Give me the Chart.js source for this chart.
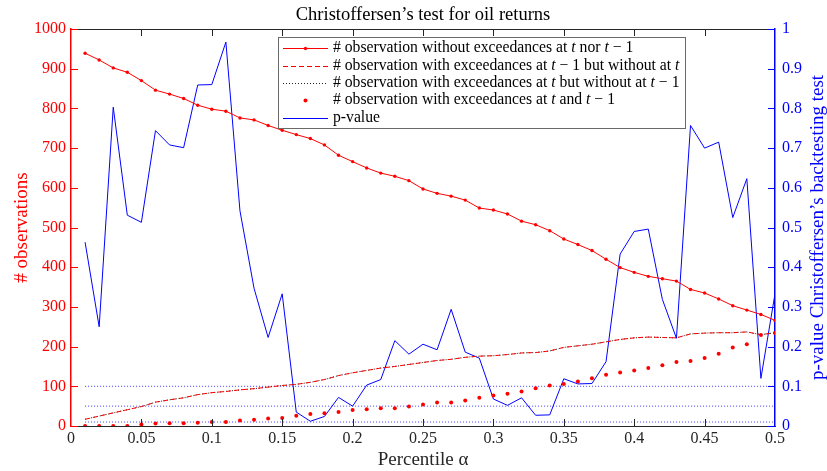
<!DOCTYPE html>
<html><head><meta charset="utf-8">
<script src="https://cdn.jsdelivr.net/npm/chart.js@4/dist/chart.umd.min.js"></script>
<style>html,body{margin:0;padding:0;background:#fff;}#wrap{width:827px;height:471px;}</style>
</head><body><div id="wrap"><canvas id="c" width="827" height="471"></canvas></div>
<script>
const alphas = [0.01,0.02,0.03,0.04,0.05,0.06,0.07,0.08,0.09,0.10,0.11,0.12,0.13,0.14,0.15,0.16,0.17,0.18,0.19,0.20,0.21,0.22,0.23,0.24,0.25,0.26,0.27,0.28,0.29,0.30,0.31,0.32,0.33,0.34,0.35,0.36,0.37,0.38,0.39,0.40,0.41,0.42,0.43,0.44,0.45,0.46,0.47,0.48,0.49,0.50];
const noExceed = [939,922,902,891,870,846,836,825,808,798,793,776,771,757,745,734,724,708,682,666,650,637,629,618,597,586,579,569,549,544,534,516,507,492,471,457,442,420,399,387,377,371,365,344,335,320,303,292,281,266];
const exceedPrevOnly = [17,25,33,41,49,60,66,71,79,84,87,91,94,98,102,105,110,117,127,134,140,146,150,155,160,165,168,173,176,177,180,184,185,189,198,202,206,212,218,222,224,223,222,232,234,235,235,237,230,235];
const exceedNowOnly = [17,25,33,41,49,60,66,71,79,84,87,91,94,98,102,105,110,117,127,134,140,146,150,155,160,165,168,173,176,177,180,184,185,189,198,202,206,212,218,222,224,223,222,232,234,235,235,237,230,235];
const exceedBoth = [0,0,0,0,4,6,7,7,8,10,10,14,16,19,20,26,30,32,35,40,42,45,45,49,54,59,59,64,71,77,81,87,95,102,106,112,120,129,135,140,146,153,161,164,171,182,198,206,229,234];
const pValues = [0.463,0.25,0.803,0.531,0.513,0.744,0.708,0.701,0.859,0.860,0.967,0.542,0.347,0.223,0.333,0.035,0.012,0.024,0.072,0.05,0.103,0.117,0.215,0.181,0.206,0.192,0.294,0.186,0.171,0.068,0.052,0.071,0.027,0.028,0.119,0.106,0.107,0.162,0.433,0.49,0.496,0.319,0.221,0.757,0.70,0.715,0.525,0.623,0.12,0.333];
const significance = [0.1, 0.05, 0.01];
const legendLabels = [
  '# observation without exceedances at $t$ nor $t-1$',
  '# observation with exceedances at $t-1$ but without at $t$',
  '# observation with exceedances at $t$ but without at $t-1$',
  '# observation with exceedances at $t$ and $t-1$',
  'p-value'
];
const titleText = 'Christoffersen\u2019s test for oil returns';
const xTitle = 'Percentile \u03b1';
const yTitle = '# observations';
const y1Title = 'p-value Christoffersen\u2019s backtesting test';

const SERIF = '"Liberation Serif", "Times New Roman", serif';
const RED = '#ff0000', BLUE = '#0000ff', DARK = '#262626';
const pts = ys => alphas.map((a, i) => ({x: a, y: ys[i]}));
const plain = s => s.replace(/\$/g, '').replace(/-1/g, ' \u2212 1');

const datasets = [
  {label: plain(legendLabels[0]), rich: legendLabels[0], data: pts(noExceed), yAxisID: 'y', borderColor: RED, backgroundColor: RED, borderWidth: 1, pointRadius: 1.7, pointBorderWidth: 0, pointHoverRadius: 0},
  {label: plain(legendLabels[1]), rich: legendLabels[1], data: pts(exceedPrevOnly), yAxisID: 'y', borderColor: RED, borderWidth: 1, borderDash: [5, 3], pointRadius: 0},
  {label: plain(legendLabels[2]), rich: legendLabels[2], data: pts(exceedNowOnly), yAxisID: 'y', borderColor: '#222222', borderWidth: 1, borderDash: [1, 2], pointRadius: 0},
  {label: plain(legendLabels[3]), rich: legendLabels[3], data: pts(exceedBoth), yAxisID: 'y', showLine: false, backgroundColor: RED, borderColor: RED, pointRadius: 2, pointBorderWidth: 0},
  {label: legendLabels[4], rich: legendLabels[4], data: pts(pValues), yAxisID: 'y1', borderColor: BLUE, borderWidth: 1, pointRadius: 0}
];
significance.forEach(s => datasets.push({
  label: 'level ' + s, noLegend: true,
  data: [{x: alphas[0], y: s}, {x: alphas[alphas.length - 1], y: s}],
  yAxisID: 'y1', borderColor: 'rgba(30,30,255,0.85)', borderWidth: 1, borderDash: [1, 2], pointRadius: 0, order: 5
}));

function richText(ctx, text, x, y, size, draw) {
  const parts = text.split('$');
  let cx = x;
  parts.forEach((p, i) => {
    if (i % 2 === 0) {
      ctx.font = size + 'px ' + SERIF;
      if (draw) ctx.fillText(p, cx, y);
      cx += ctx.measureText(p).width;
    } else {
      for (const ch of p) {
        const it = /[a-zA-Z]/.test(ch);
        const s = ch === '-' ? ' \u2212 ' : ch;
        ctx.font = (it ? 'italic ' : '') + size + 'px ' + SERIF;
        if (draw) ctx.fillText(s, cx, y);
        cx += ctx.measureText(s).width;
      }
    }
  });
  return cx - x;
}

const decor = {
  id: 'decor',
  afterDatasetsDraw(chart) {
    const {ctx, chartArea: a, scales} = chart;
    ctx.save();
    ctx.lineWidth = 1;
    ctx.strokeStyle = DARK;
    ctx.beginPath(); ctx.moveTo(a.left, Math.round(a.top) + 0.5); ctx.lineTo(a.right, Math.round(a.top) + 0.5); ctx.stroke();
    const tl = 7;
    scales.x.ticks.forEach(t => {
      const px = Math.round(scales.x.getPixelForValue(t.value)) + 0.5;
      if (px < a.left + 2 || px > a.right - 2) return;
      ctx.beginPath();
      ctx.moveTo(px, a.bottom); ctx.lineTo(px, a.bottom - tl);
      ctx.moveTo(px, a.top); ctx.lineTo(px, a.top + tl);
      ctx.stroke();
    });
    ctx.strokeStyle = RED;
    scales.y.ticks.forEach(t => {
      const py = Math.round(scales.y.getPixelForValue(t.value)) + 0.5;
      ctx.beginPath(); ctx.moveTo(a.left, py); ctx.lineTo(a.left + tl, py); ctx.stroke();
    });
    ctx.strokeStyle = BLUE;
    scales.y1.ticks.forEach(t => {
      const py = Math.round(scales.y1.getPixelForValue(t.value)) + 0.5;
      ctx.beginPath(); ctx.moveTo(a.right, py); ctx.lineTo(a.right - tl, py); ctx.stroke();
    });
    ctx.restore();
  },
  afterDraw(chart) {
    const {ctx, chartArea: a} = chart;
    // chart title, centred over the plot area
    ctx.save();
    ctx.fillStyle = '#000';
    ctx.font = '18.5px ' + SERIF;
    ctx.textAlign = 'center';
    ctx.textBaseline = 'middle';
    ctx.fillText(titleText, (a.left + a.right) / 2, 15);
    ctx.restore();

    // right axis title, reading bottom to top
    ctx.save();
    ctx.translate(818, (a.top + a.bottom) / 2);
    ctx.rotate(-Math.PI / 2);
    ctx.fillStyle = BLUE;
    ctx.font = '19px ' + SERIF;
    ctx.textAlign = 'center';
    ctx.textBaseline = 'middle';
    ctx.fillText(y1Title, 0, 0);
    ctx.restore();

    // legend box
    const items = chart.data.datasets.filter(d => !d.noLegend);
    const size = 15.7, left = 278, top = 37, rowH = 17.3, sx0 = left + 5, sx1 = left + 50, tx = left + 55;
    ctx.save();
    let maxW = 0;
    items.forEach(d => { maxW = Math.max(maxW, richText(ctx, d.rich, 0, 0, size, false)); });
    const w = Math.round(tx - left + maxW + 6), h = 91;
    ctx.fillStyle = '#fff';
    ctx.fillRect(left, top, w, h);
    ctx.strokeStyle = '#6a6a6a';
    ctx.lineWidth = 1;
    ctx.strokeRect(left + 0.5, top + 0.5, w, h);
    items.forEach((d, i) => {
      const y = top + 11.3 + i * rowH;
      const ly = Math.round(y) + 0.5;
      if (d.showLine !== false) {
        ctx.strokeStyle = d.borderColor;
        ctx.lineWidth = d.borderWidth;
        ctx.setLineDash(d.borderDash || []);
        ctx.beginPath(); ctx.moveTo(sx0, ly); ctx.lineTo(sx1, ly); ctx.stroke();
        ctx.setLineDash([]);
      }
      if (d.pointRadius > 0) {
        ctx.fillStyle = d.backgroundColor;
        ctx.beginPath(); ctx.arc((sx0 + sx1) / 2, ly, d.pointRadius, 0, Math.PI * 2); ctx.fill();
      }
      ctx.fillStyle = '#000';
      ctx.textBaseline = 'middle';
      ctx.textAlign = 'left';
      richText(ctx, d.rich, tx, y, size, true);
    });
    ctx.restore();
  }
};

const fmt = v => String(Math.round(v * 100) / 100);

new Chart(document.getElementById('c'), {
  type: 'line',
  data: {datasets},
  options: {
    responsive: false, animation: false, devicePixelRatio: 1,
    layout: {padding: {top: 29, left: 0, right: 0, bottom: 0}},
    elements: {line: {tension: 0, fill: false}},
    plugins: {
      legend: {display: false}, tooltip: {enabled: false}, title: {display: false}
    },
    scales: {
      x: {
        type: 'linear', position: 'bottom', min: 0, max: 0.5,
        ticks: {stepSize: 0.05, color: DARK, font: {family: SERIF, size: 16}, padding: 3, maxRotation: 0, autoSkip: false, callback: v => fmt(v)},
        grid: {display: false, drawTicks: false},
        border: {display: true, color: DARK, width: 1},
        title: {display: true, text: xTitle, color: DARK, font: {family: SERIF, size: 19}, padding: {top: 0, bottom: 0}},
        afterFit: s => { s.height = 45; }
      },
      y: {
        type: 'linear', position: 'left', min: 0, max: 1000,
        ticks: {stepSize: 100, color: RED, font: {family: SERIF, size: 16}, padding: 5, callback: v => String(v)},
        grid: {display: false, drawTicks: false},
        border: {display: true, color: RED, width: 1.5},
        title: {display: true, text: yTitle, color: RED, font: {family: SERIF, size: 19}, padding: {top: 11, bottom: 0}},
        afterFit: s => { s.width = 71; }
      },
      y1: {
        type: 'linear', position: 'right', min: 0, max: 1,
        ticks: {stepSize: 0.1, color: BLUE, font: {family: SERIF, size: 16}, padding: 7, callback: v => String(Math.round(v * 10) / 10)},
        grid: {display: false, drawTicks: false},
        border: {display: true, color: BLUE, width: 1.5},
        afterFit: s => { s.width = 52; }
      }
    }
  },
  plugins: [decor]
});
</script>
</body></html>
